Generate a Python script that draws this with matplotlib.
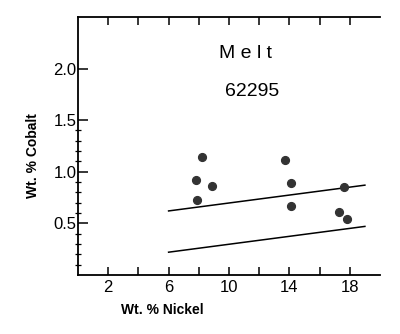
import matplotlib
matplotlib.use("Agg")
import matplotlib.pyplot as plt
from matplotlib.ticker import FixedLocator

plt.rcParams["font.family"] = ["Liberation Sans", "DejaVu Sans"]

# measured points, Melt 62295
nickel = [7.8, 8.2, 8.9, 7.9, 13.7, 14.1, 14.1, 17.6, 17.3, 17.8]
cobalt = [0.92, 1.14, 0.86, 0.73, 1.11, 0.89, 0.67, 0.85, 0.61, 0.54]

# boundary lines (end points)
line_x = [6, 19]
upper_y = [0.62, 0.87]
lower_y = [0.22, 0.47]

x_labels = [2, 6, 10, 14, 18]
x_minor = [4, 8, 12, 16]
y_major = [0.5, 1.0, 1.5, 2.0]
y_minor = [0.1, 0.2, 0.3, 0.4, 0.6, 0.7, 0.8, 0.9, 1.1, 1.2, 1.3, 1.4]

fig = plt.figure(figsize=(4.0, 3.34), dpi=100)
ax = fig.add_axes([0.195, 0.177, 0.755, 0.772])

ax.plot(nickel, cobalt, "o", color="#333333", markersize=5.6, zorder=3)
ax.plot(line_x, upper_y, color="black", lw=1.1)
ax.plot(line_x, lower_y, color="black", lw=1.1)

ax.set_xlim(0, 20)
ax.set_ylim(0, 2.5)

ax.spines["right"].set_visible(False)
for s in ["left", "bottom", "top"]:
    ax.spines[s].set_linewidth(1.3)

ax.xaxis.set_major_locator(FixedLocator(x_labels))
ax.xaxis.set_minor_locator(FixedLocator(x_minor))
ax.set_xticklabels([str(v) for v in x_labels])
ax.yaxis.set_major_locator(FixedLocator(y_major))
ax.yaxis.set_minor_locator(FixedLocator(y_minor))
ax.set_yticklabels(["0.5", "1.0", "1.5", "2.0"])

ax.tick_params(axis="x", which="both", direction="in", length=6, width=1.1,
               top=True, labelsize=12, pad=4)
ax.tick_params(axis="y", which="major", direction="in", length=7, width=1.1,
               labelsize=12, pad=1)
ax.tick_params(axis="y", which="minor", direction="inout", length=5, width=0.9)

ax.text(0.556, 0.86, "M e l t", transform=ax.transAxes, ha="center", va="center",
        fontsize=14)
ax.text(0.576, 0.71, "62295", transform=ax.transAxes, ha="center", va="center",
        fontsize=14)

fig.text(0.405, 0.072, "Wt. % Nickel", ha="center", va="center",
         fontsize=10, fontweight="bold")
fig.text(0.083, 0.535, "Wt. % Cobalt", ha="center", va="center",
         rotation=90, fontsize=10, fontweight="bold")

fig.savefig("out.png", dpi=100)
plt.close(fig)
